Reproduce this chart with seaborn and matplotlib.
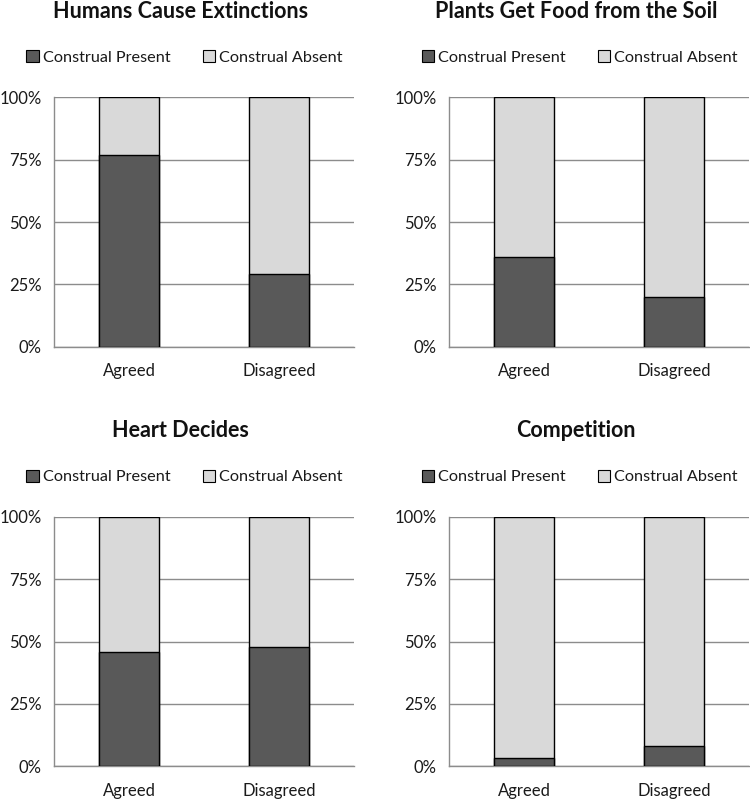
import numpy as np
import pandas as pd
import matplotlib
matplotlib.use("Agg")
import matplotlib.pyplot as plt
import seaborn as sns
from matplotlib.patches import Patch
from matplotlib.ticker import PercentFormatter

sns.set_style("white")
plt.rcParams['font.family'] = ['Lato', 'DejaVu Sans']

# data
titles = ["Humans Cause Extinctions", "Plants Get Food from the Soil",
          "Heart Decides", "Competition"]
groups = ["Agreed", "Disagreed"]
present = [[0.77, 0.29], [0.36, 0.20], [0.46, 0.48], [0.034, 0.083]]
absent = [[0.23, 0.71], [0.64, 0.80], [0.54, 0.52], [0.966, 0.917]]
legend_labels = ["Construal Present", "Construal Absent"]

dark = "#595959"
light = "#d9d9d9"
grid_c = "#8c8c8c"

fig = plt.figure(figsize=(7.5, 7.99), dpi=100)

# axes boxes in figure fractions (left, bottom, width, height)
boxes = [(0.072, 0.566, 0.40, 0.312), (0.599, 0.566, 0.40, 0.312),
         (0.072, 0.041, 0.40, 0.312), (0.599, 0.041, 0.40, 0.312)]

for i, title in enumerate(titles):
    ax = fig.add_axes(boxes[i])
    df = pd.DataFrame({"group": groups,
                       "present": present[i],
                       "total": np.array(present[i]) + np.array(absent[i])})

    # light bar is the full stack, dark bar drawn over it from zero
    sns.barplot(data=df, x="group", y="total", color=light, width=0.4,
                edgecolor="black", linewidth=1.0, saturation=1, ax=ax, zorder=3)
    sns.barplot(data=df, x="group", y="present", color=dark, width=0.4,
                edgecolor="black", linewidth=1.0, saturation=1, ax=ax, zorder=4)

    ax.set_xlim(-0.5, 1.5)
    ax.set_ylim(0, 1)
    ax.set_xlabel("")
    ax.set_ylabel("")
    ax.set_yticks([0, 0.25, 0.5, 0.75, 1.0])
    ax.yaxis.set_major_formatter(PercentFormatter(1.0, decimals=0))
    ax.yaxis.grid(True, color=grid_c, linewidth=1.0, zorder=0)
    ax.set_axisbelow(True)

    for s in ["top", "right"]:
        ax.spines[s].set_visible(False)
    for s in ["left", "bottom"]:
        ax.spines[s].set_color(grid_c)
        ax.spines[s].set_linewidth(1.0)

    ax.tick_params(axis="y", length=5, width=1.0, color=grid_c,
                   labelsize=12, labelcolor="#1a1a1a", pad=4, direction="out")
    ax.tick_params(axis="x", which="major", length=0, labelsize=12,
                   labelcolor="#1a1a1a", pad=12)
    ax.set_xticks([-0.5, 0.5, 1.5], minor=True)
    ax.tick_params(axis="x", which="minor", length=5, width=1.0, color=grid_c,
                   direction="out")

    ax.text(0.423, 1.345, title, transform=ax.transAxes, ha="center",
            va="center", fontsize=15.5, fontweight="bold", color="#111111")

    handles = [Patch(facecolor=dark, edgecolor="black", linewidth=0.8),
               Patch(facecolor=light, edgecolor="black", linewidth=0.8)]
    ax.legend(handles, legend_labels, loc="center", bbox_to_anchor=(0.435, 1.16),
              ncol=2, frameon=False, fontsize=11.7, handlelength=0.75,
              handleheight=0.75, handletextpad=0.25, columnspacing=2.0,
              labelcolor="#1a1a1a")

fig.savefig("out.png", dpi=100, facecolor="white")
